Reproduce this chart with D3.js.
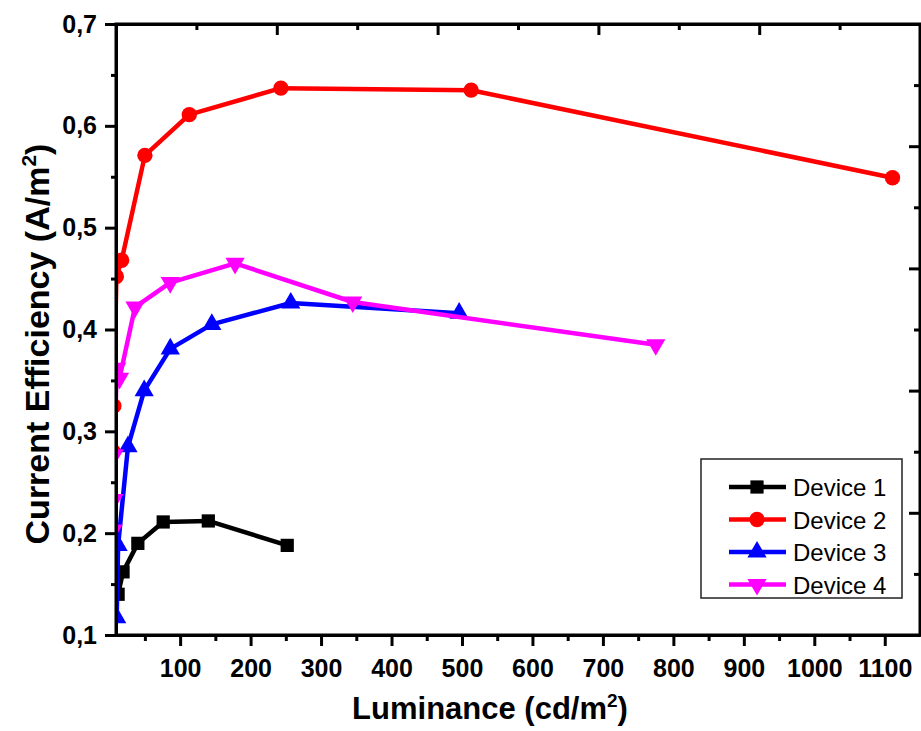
<!DOCTYPE html>
<html>
<head>
<meta charset="utf-8">
<script src="https://cdnjs.cloudflare.com/ajax/libs/d3/7.8.5/d3.min.js"></script>
<style>
  body { margin: 0; background: #fff; }
  text { font-family: "Liberation Sans", Arial, sans-serif; }
</style>
</head>
<body>
<div id="chart"></div>
<script>
// data (luminance cd/m2, efficiency)
var seriesNames = ["Device 1", "Device 2", "Device 3", "Device 4"];
var colors = ["#000000", "#ff0000", "#0000ff", "#ff00ff"];
var symbols = ["square", "circle", "triangle", "triangleDown"];

var lum1 = [12, 19, 40, 76, 140, 252];
var eff1 = [0.140, 0.162, 0.190, 0.211, 0.212, 0.188];

var lum2 = [5, 6, 9.5, 17, 50, 113, 243, 513, 1111];
var eff2 = [0.28, 0.325, 0.452, 0.468, 0.571, 0.611, 0.637, 0.635, 0.549];

var lum3 = [10, 12, 26, 49, 86, 145, 257, 496];
var eff3 = [0.117, 0.188, 0.285, 0.340, 0.381, 0.405, 0.426, 0.416];

var lum4 = [5, 6, 6.5, 10, 14, 36, 86, 178, 345, 775];
var eff4 = [0.203, 0.233, 0.277, 0.362, 0.352, 0.422, 0.446, 0.465, 0.427, 0.385];

var xTicks = [100, 200, 300, 400, 500, 600, 700, 800, 900, 1000, 1100];
var yTicks = [0.1, 0.2, 0.3, 0.4, 0.5, 0.6, 0.7];

var lums = [lum1, lum2, lum3, lum4];
var effs = [eff1, eff2, eff3, eff4];

var width = 921, height = 731;
var pLeft = 116, pRight = 920, pTop = 24, pBottom = 635;

var svg = d3.select("#chart").append("svg")
  .attr("width", width)
  .attr("height", height);

var x = d3.scaleLinear().domain([9, 1150]).range([pLeft, pRight]);
var y = d3.scaleLinear().domain([0.1, 0.7]).range([pBottom, pTop]);
// the mirrored axes on top/right use their own spacing in the figure
var xTop = d3.scaleLinear().domain([0, 5]).range([pLeft, pRight]);
var yRight = d3.scaleLinear().domain([0, 5]).range([pBottom, pTop]);

svg.append("clipPath").attr("id", "plotClip")
  .append("rect")
  .attr("x", pLeft).attr("y", pTop)
  .attr("width", pRight - pLeft).attr("height", pBottom - pTop);

// series
var line = d3.line()
  .x(function(d) { return x(d[0]); })
  .y(function(d) { return y(d[1]); });

function symbolPath(s) {
  if (s == "square") return d3.symbol().type(d3.symbolSquare).size(175)();
  if (s == "circle") return d3.symbol().type(d3.symbolCircle).size(185)();
  return d3.symbol().type(d3.symbolTriangle).size(160)();
}

var plot = svg.append("g").attr("clip-path", "url(#plotClip)");

seriesNames.forEach(function(name, i) {
  var pts = lums[i].map(function(v, j) { return [v, effs[i][j]]; });
  plot.append("path")
    .datum(pts)
    .attr("fill", "none")
    .attr("stroke", colors[i])
    .attr("stroke-width", 4.5)
    .attr("stroke-linejoin", "round")
    .attr("d", line);

  plot.selectAll(".m" + i).data(pts)
    .enter()
    .append("path")
    .attr("class", "m" + i)
    .attr("d", symbolPath(symbols[i]))
    .attr("fill", colors[i])
    .attr("transform", function(d) {
      var r = symbols[i] == "triangleDown" ? " rotate(180)" : "";
      return "translate(" + x(d[0]) + "," + y(d[1]) + ")" + r;
    });
});

// axes
svg.append("g")
  .attr("transform", "translate(0," + pBottom + ")")
  .call(d3.axisBottom(x).tickValues(xTicks).tickSize(11).tickSizeOuter(0).tickPadding(13)
    .tickFormat(d3.format("d")));
svg.append("g")
  .attr("transform", "translate(0," + pBottom + ")")
  .call(d3.axisBottom(x).tickValues(d3.range(50, 1150, 100)).tickSize(6).tickSizeOuter(0).tickFormat(""));

svg.append("g")
  .attr("transform", "translate(" + pLeft + ",0)")
  .call(d3.axisLeft(y).tickValues(yTicks).tickSize(11).tickSizeOuter(0).tickPadding(8)
    .tickFormat(function(d) { return d3.format(".1f")(d).replace(".", ","); }));
svg.append("g")
  .attr("transform", "translate(" + pLeft + ",0)")
  .call(d3.axisLeft(y).tickValues(d3.range(0.15, 0.7, 0.1)).tickSize(5).tickSizeOuter(0).tickFormat(""));

svg.append("g")
  .attr("transform", "translate(0," + pTop + ")")
  .call(d3.axisBottom(xTop).tickValues([1, 2, 3, 4, 5]).tickSize(11).tickSizeOuter(0).tickFormat(""));
svg.append("g")
  .attr("transform", "translate(0," + pTop + ")")
  .call(d3.axisBottom(xTop).tickValues([0.5, 1.5, 2.5, 3.5, 4.5]).tickSize(6).tickSizeOuter(0).tickFormat(""));
svg.append("g")
  .attr("transform", "translate(" + pRight + ",0)")
  .call(d3.axisLeft(yRight).tickValues([1, 2, 3, 4]).tickSize(11).tickSizeOuter(0).tickFormat(""));
svg.append("g")
  .attr("transform", "translate(" + pRight + ",0)")
  .call(d3.axisLeft(yRight).tickValues([0.5, 1.5, 2.5, 3.5, 4.5]).tickSize(6).tickSizeOuter(0).tickFormat(""));

svg.selectAll(".domain").attr("stroke", "#000").attr("stroke-width", 3);
svg.selectAll(".tick line").attr("stroke", "#000").attr("stroke-width", 3);
svg.selectAll(".tick text")
  .attr("fill", "#000")
  .style("font-size", "25px")
  .style("font-weight", "bold");

// frame
svg.append("rect")
  .attr("x", pLeft).attr("y", pTop)
  .attr("width", pRight - pLeft).attr("height", pBottom - pTop)
  .attr("fill", "none").attr("stroke", "#000").attr("stroke-width", 3);

// axis titles
var xt = svg.append("text")
  .attr("x", 490).attr("y", 719)
  .attr("text-anchor", "middle")
  .style("font-size", "31px").style("font-weight", "bold");
xt.append("tspan").text("Luminance (cd/m");
xt.append("tspan").attr("dy", -12).style("font-size", "19px").text("2");
xt.append("tspan").attr("dy", 12).text(")");

var yt = svg.append("text")
  .attr("transform", "translate(49,344) rotate(-90)")
  .attr("text-anchor", "middle")
  .style("font-size", "34px").style("font-weight", "bold");
yt.append("tspan").text("Current Efficiency (A/m");
yt.append("tspan").attr("dy", -13).style("font-size", "21px").text("2");
yt.append("tspan").attr("dy", 13).text(")");

// legend
var lg = svg.append("g").attr("transform", "translate(701,459)");
lg.append("rect")
  .attr("width", 201).attr("height", 139)
  .attr("fill", "#fff").attr("stroke", "#222").attr("stroke-width", 1.5);

lg.selectAll(".item").data(seriesNames)
  .enter()
  .append("g")
  .attr("class", "item")
  .each(function(d, i) {
    var g = d3.select(this);
    var yy = 28 + i * 32.5;
    g.append("line")
      .attr("x1", 28).attr("x2", 85)
      .attr("y1", yy).attr("y2", yy)
      .attr("stroke", colors[i]).attr("stroke-width", 4.5);
    g.append("path")
      .attr("d", symbolPath(symbols[i]))
      .attr("fill", colors[i])
      .attr("transform", "translate(56," + yy + ")" + (symbols[i] == "triangleDown" ? " rotate(180)" : ""));
    g.append("text")
      .attr("x", 92).attr("y", yy + 9)
      .style("font-size", "24px")
      .style("fill", "#000")
      .text(d);
  });
</script>
</body>
</html>
